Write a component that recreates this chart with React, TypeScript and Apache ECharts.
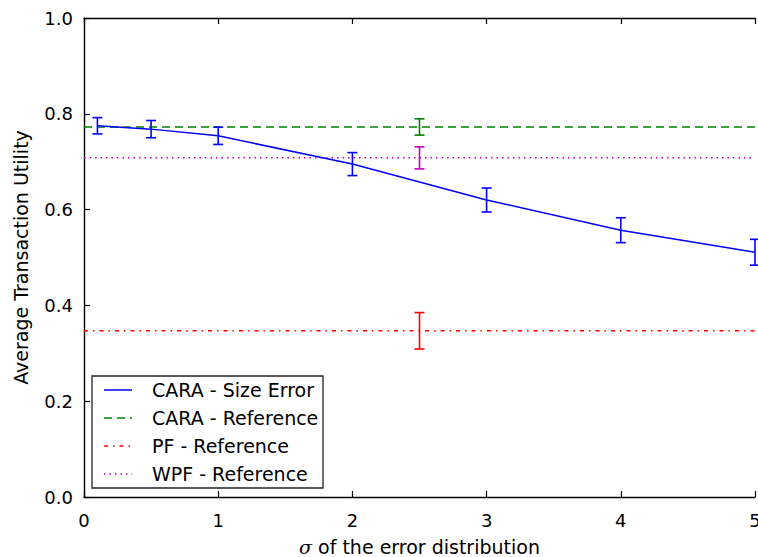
import React, { useEffect, useRef } from "react";
import * as echarts from "echarts";

// Data
const sigmaValues = [0.1, 0.5, 1, 2, 3, 4, 5];
const caraSizeError = [0.775, 0.768, 0.754, 0.695, 0.62, 0.557, 0.511];
const caraSizeErrorErr = [0.017, 0.018, 0.018, 0.024, 0.025, 0.026, 0.027];

const refX = 2.5;
const caraReference = 0.7725;
const caraReferenceErr = 0.017;
const pfReference = 0.347;
const pfReferenceErr = 0.038;
const wpfReference = 0.708;
const wpfReferenceErr = 0.023;

const xRange = [0, 5];
const yRange = [0, 1];

const legendNames = [
  "CARA - Size Error",
  "CARA - Reference",
  "PF - Reference",
  "WPF - Reference",
];

const BLUE = "#0000ff";
const GREEN = "#008000";
const RED = "#ff0000";
const MAGENTA = "#bf00bf";
const FONT = "DejaVu Sans";

function errorBarSeries(data: number[][], color: string, z: number) {
  return {
    type: "custom",
    z,
    silent: true,
    clip: false,
    renderItem: (params: any, api: any) => {
      const x = api.value(0);
      const y = api.value(1);
      const e = api.value(2);
      const top = api.coord([x, y + e]);
      const bot = api.coord([x, y - e]);
      const cap = 5;
      const style = { stroke: color, lineWidth: 1.6 };
      return {
        type: "group",
        children: [
          { type: "line", shape: { x1: top[0], y1: top[1], x2: bot[0], y2: bot[1] }, style },
          { type: "line", shape: { x1: top[0] - cap, y1: top[1], x2: top[0] + cap, y2: top[1] }, style },
          { type: "line", shape: { x1: bot[0] - cap, y1: bot[1], x2: bot[0] + cap, y2: bot[1] }, style },
        ],
      };
    },
    encode: { x: 0, y: 1 },
    data,
  };
}

export default function App() {
  const ref = useRef<HTMLDivElement>(null);

  useEffect(() => {
    if (!ref.current) return;
    const chart = echarts.init(ref.current, null, { renderer: "svg" });

    const lineData = sigmaValues.map((s, i) => [s, caraSizeError[i]]);
    const errData = sigmaValues.map((s, i) => [s, caraSizeError[i], caraSizeErrorErr[i]]);

    const legendX = 92;
    const legendY = 376;
    const legendW = 231;
    const legendH = 112;
    const rowH = 28;
    const legendStyles = [
      { color: BLUE, dash: null as any },
      { color: GREEN, dash: [8, 5] },
      { color: RED, dash: [4, 5, 1.5, 5] },
      { color: MAGENTA, dash: [1.5, 4] },
    ];
    const legendChildren: any[] = [
      {
        type: "rect",
        shape: { x: legendX, y: legendY, width: legendW, height: legendH },
        style: { fill: "#ffffff", stroke: "#222222", lineWidth: 1.3 },
        z: 100,
      },
    ];
    legendNames.forEach((name, i) => {
      const cy = legendY + 14 + i * rowH;
      legendChildren.push({
        type: "line",
        shape: { x1: legendX + 12, y1: cy, x2: legendX + 40, y2: cy },
        style: {
          stroke: legendStyles[i].color,
          lineWidth: 1.5,
          lineDash: legendStyles[i].dash,
        },
        z: 101,
      });
      legendChildren.push({
        type: "text",
        x: legendX + 60,
        y: cy,
        style: {
          text: name,
          fill: "#000000",
          font: `19px "${FONT}"`,
          textVerticalAlign: "middle",
          textAlign: "left",
        },
        z: 101,
      });
    });

    const axisCommon = {
      axisLine: { show: true, lineStyle: { color: "#000000", width: 1.4 } },
      axisTick: { show: true, inside: true, length: 6, lineStyle: { color: "#000000", width: 1.2 } },
      splitLine: { show: false },
    };

    chart.setOption({
      animation: false,
      backgroundColor: "#ffffff",
      grid: { left: 84, right: 3, top: 18, bottom: 60, outerBoundsMode: "none", containLabel: false },
      xAxis: [
        {
          type: "value",
          min: xRange[0],
          max: xRange[1],
          interval: 1,
          position: "bottom",
          ...axisCommon,
          axisLabel: {
            color: "#000000",
            fontFamily: FONT,
            fontSize: 18,
            margin: 14,
            showMaxLabel: true,
            hideOverlap: false,
          },
          name: "{i|σ} of the error distribution",
          nameLocation: "middle",
          nameGap: 40,
          nameTextStyle: {
            color: "#000000",
            fontFamily: FONT,
            fontSize: 19,
            rich: {
              i: { fontFamily: "DejaVu Serif", fontStyle: "italic", fontSize: 19, color: "#000000" },
            },
          },
        },
        {
          type: "value",
          min: xRange[0],
          max: xRange[1],
          interval: 1,
          position: "top",
          ...axisCommon,
          axisLabel: { show: false },
        },
      ],
      yAxis: [
        {
          type: "value",
          min: yRange[0],
          max: yRange[1],
          interval: 0.2,
          ...axisCommon,
          axisLabel: {
            color: "#000000",
            fontFamily: FONT,
            fontSize: 18,
            margin: 11,
            formatter: (v: number) => v.toFixed(1),
          },
          name: "Average Transaction Utility",
          nameLocation: "middle",
          nameGap: 54,
          nameRotate: 90,
          nameTextStyle: { color: "#000000", fontFamily: FONT, fontSize: 19 },
        },
      ],
      series: [
        {
          name: legendNames[0],
          type: "line",
          data: lineData,
          showSymbol: false,
          symbol: "none",
          lineStyle: { color: BLUE, width: 1.5 },
          z: 5,
        },
        errorBarSeries(errData, BLUE, 6),
        {
          name: legendNames[1],
          type: "line",
          data: [[xRange[0], caraReference], [xRange[1], caraReference]],
          showSymbol: false,
          symbol: "none",
          lineStyle: { color: GREEN, width: 1.5, type: [8, 5] },
          z: 4,
        },
        errorBarSeries([[refX, caraReference, caraReferenceErr]], GREEN, 6),
        {
          name: legendNames[2],
          type: "line",
          data: [[xRange[0], pfReference], [xRange[1], pfReference]],
          showSymbol: false,
          symbol: "none",
          lineStyle: { color: RED, width: 1.5, type: [4, 5, 1.5, 5] },
          z: 4,
        },
        errorBarSeries([[refX, pfReference, pfReferenceErr]], RED, 6),
        {
          name: legendNames[3],
          type: "line",
          data: [[xRange[0], wpfReference], [xRange[1], wpfReference]],
          showSymbol: false,
          symbol: "none",
          lineStyle: { color: MAGENTA, width: 1.5, type: [1.5, 4] },
          z: 4,
        },
        errorBarSeries([[refX, wpfReference, wpfReferenceErr]], MAGENTA, 6),
      ],
      graphic: [{ type: "group", children: legendChildren }],
    });

    return () => chart.dispose();
  }, []);

  return (
    <div
      ref={ref}
      style={{ position: "fixed", left: 0, top: 0, width: 758, height: 557, background: "#fff" }}
    />
  );
}
